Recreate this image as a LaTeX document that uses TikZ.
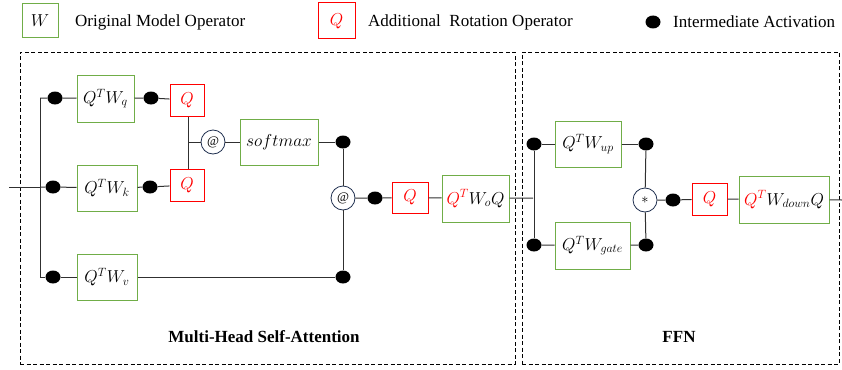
\documentclass[tikz,border=0pt]{standalone}
\usepackage{fontspec}
\setmainfont{Liberation Serif}
\usetikzlibrary{shapes.geometric}
\DeclareMathSizes{16}{16}{12.5}{10}
\DeclareMathSizes{17}{17}{13}{10}
\definecolor{boxgreen}{HTML}{70AD47}
\definecolor{boxred}{HTML}{FF0000}
\definecolor{wirecol}{HTML}{303030}
\definecolor{circcol}{HTML}{1F2F4F}
\begin{document}
\begin{tikzpicture}[x=1pt,y=-1pt,
  gbox/.style={draw=boxgreen, line width=1pt, fill=white, inner sep=0pt, font=\fontsize{16}{18}\selectfont},
  rbox/.style={draw=boxred, line width=1pt, fill=white, inner sep=0pt, text=boxred, font=\fontsize{16}{18}\selectfont},
  dot/.style={ellipse, fill=black, draw=none, minimum width=15pt, minimum height=13pt, inner sep=0pt},
  opcirc/.style={circle, draw=circcol, line width=0.8pt, fill=white, minimum size=24pt, inner sep=0pt, font=\fontsize{13}{15}\selectfont},
  wire/.style={draw=wirecol, line width=1pt},
  region/.style={draw=black, line width=0.8pt, dash pattern=on 4pt off 2.5pt},
  legtext/.style={anchor=west, inner sep=0pt, font=\fontsize{17}{19}\selectfont},
  title/.style={inner sep=0pt, font=\fontsize{17}{19}\selectfont\bfseries}
]
\useasboundingbox (0,0) rectangle (842,369);

% legend
\node[gbox, minimum width=36pt, minimum height=34pt, font=\fontsize{17}{19}\selectfont] (lw) at (40,21) {$W$};
\node[legtext] (lwt) at (75,22) {Original Model Operator};
\node[rbox, minimum width=37pt, minimum height=36pt, font=\fontsize{17}{19}\selectfont] (lq) at (336.5,21) {$Q$};
\node[legtext] (lqt) at (368,22) {Additional\ \ Rotation Operator};
\node[dot] (ld) at (653,22) {};
\node[legtext] (ldt) at (673,22) {Intermediate Activation};

% regions
\node[region, minimum width=495pt, minimum height=312pt, inner sep=0pt] (mhsa) at (267.5,208) {};
\node[region, minimum width=317pt, minimum height=312pt, inner sep=0pt] (ffn) at (680.5,208) {};
\node[title] (mhsat) at (264,337) {Multi-Head Self-Attention};
\node[title] (ffnt) at (679,337) {FFN};

% MHSA nodes
\coordinate (in) at (9,187);
\coordinate (bq) at (40,98);
\coordinate (bk) at (40,187);
\coordinate (bv) at (40,277);
\node[dot] (dq1) at (55,98) {};
\node[dot] (dk1) at (53,187) {};
\node[dot] (dv1) at (53,277) {};
\node[gbox, minimum width=57pt, minimum height=47pt] (wq) at (105.5,98.5) {$Q^TW_q$};
\node[gbox, minimum width=60pt, minimum height=46pt] (wk) at (107,188) {$Q^TW_k$};
\node[gbox, minimum width=60pt, minimum height=46pt] (wv) at (107,277) {$Q^TW_v$};
\node[dot] (dq2) at (151,98) {};
\node[dot] (dk2) at (150,187) {};
\node[rbox, minimum width=34pt, minimum height=32pt] (qq) at (187,100) {$Q$};
\node[rbox, minimum width=34pt, minimum height=32pt] (qk) at (187,185) {$Q$};
\coordinate (mj) at (188,142);
\node[opcirc] (at1) at (213,142) {@};
\node[gbox, minimum width=78pt, minimum height=46pt, font=\fontsize{17}{19}\selectfont] (sm) at (279,142) {$softmax$};
\node[dot] (ds) at (343,142) {};
\node[opcirc] (at2) at (343,198) {@};
\node[dot] (dv2) at (343,277) {};
\node[dot] (do1) at (375,198) {};
\node[rbox, minimum width=36pt, minimum height=31pt] (qo) at (410,197.5) {$Q$};
\node[gbox, minimum width=67pt, minimum height=47pt] (wo) at (475.5,198.5) {$\textcolor{boxred}{Q^T}W_oQ$};

% FFN nodes
\coordinate (fj) at (533,198);
\node[dot] (du1) at (534,144) {};
\node[dot] (dg1) at (534,245) {};
\node[gbox, minimum width=66pt, minimum height=46pt] (wu) at (588,144) {$Q^TW_{up}$};
\node[gbox, minimum width=75pt, minimum height=47pt] (wg) at (592.5,245.5) {$Q^TW_{gate}$};
\node[dot] (du2) at (646,144) {};
\node[dot] (dg2) at (646,245) {};
\node[opcirc, font=\fontsize{14}{16}\selectfont] (mul) at (645,200) {$*$};
\node[dot] (dm) at (673,200) {};
\node[rbox, minimum width=35pt, minimum height=32pt] (qd) at (709.5,199) {$Q$};
\node[gbox, minimum width=90pt, minimum height=47pt] (wd) at (784,199.5) {$\textcolor{boxred}{Q^T}W_{down}Q$};
\coordinate (out) at (842,200);

% wires
\draw[wire] (in) -- (bk);
\draw[wire] (bq) -- (bv);
\draw[wire] (bq) -- (dq1) -- (wq);
\draw[wire] (wq) -- (dq2) -- (qq);
\draw[wire] (bk) -- (dk1) -- (wk);
\draw[wire] (wk) -- (dk2) -- (qk);
\draw[wire] (bv) -- (dv1) -- (wv);
\draw[wire] (wv) -- (dv2);
\draw[wire] (qq.south -| mj) -- (qk.north -| mj);
\draw[wire] (mj) -- (at1) -- (sm) -- (ds);
\draw[wire] (ds) -- (at2) -- (dv2);
\draw[wire] (at2) -- (do1) -- (qo) -- (wo) -- (fj);
\draw[wire] (du1) -- (dg1);
\draw[wire] (du1) -- (wu) -- (du2);
\draw[wire] (dg1) -- (wg) -- (dg2);
\draw[wire] (du2) -- (mul) -- (dg2);
\draw[wire] (mul) -- (dm) -- (qd) -- (wd) -- (out);
\end{tikzpicture}
\end{document}
